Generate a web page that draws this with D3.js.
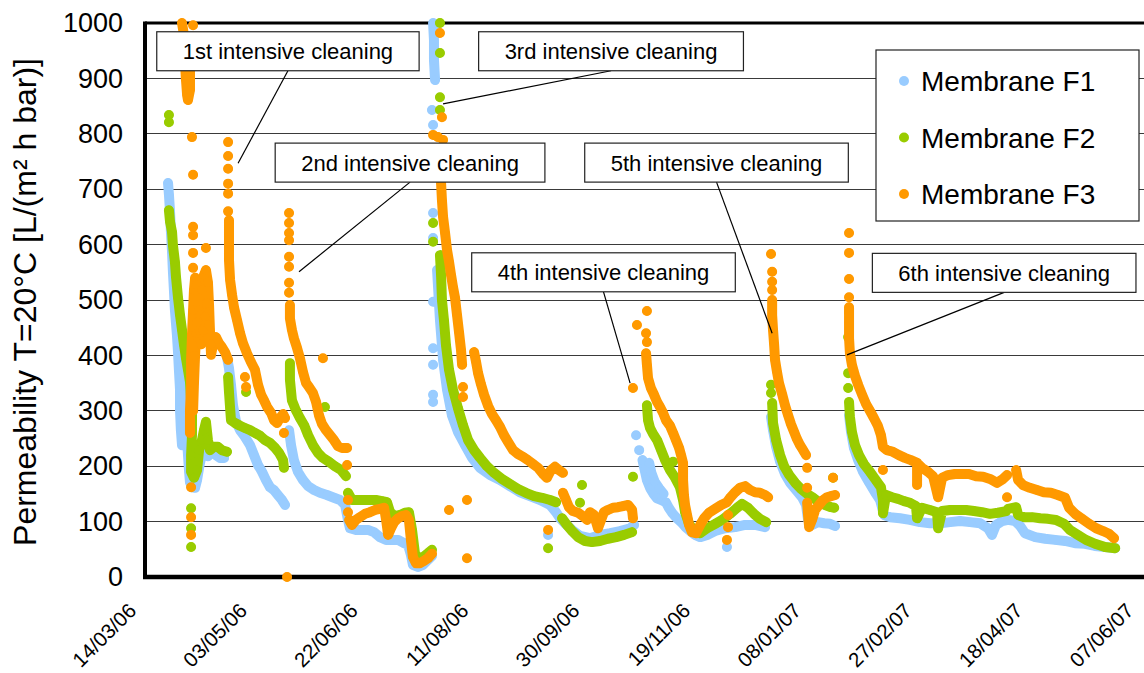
<!DOCTYPE html>
<html>
<head>
<meta charset="utf-8">
<script src="https://cdn.jsdelivr.net/npm/d3@7"></script>
<style>
body { margin: 0; background: #fff; }
text { font-family: "Liberation Sans", Arial, sans-serif; fill: #000; }
</style>
</head>
<body>
<svg id="chart" width="1144" height="673"></svg>
<script>
// day 0 = 14/03/06
var START = Date.UTC(2006, 2, 14);
var tickDays = [0, 50, 100, 150, 200, 250, 300, 350, 400, 450];
var yTicks = [0, 100, 200, 300, 400, 500, 600, 700, 800, 900, 1000];
var seriesNames = ["Membrane F1", "Membrane F2", "Membrane F3"];
var seriesColors = ["#99CCFF", "#99CC00", "#FF9900"];

// [day, permeability], null = break between runs
var f1 = [
  [10.4,711],[10.8,690],[11.3,659],[11.7,623],[12.2,587],[12.6,551],[13.1,514],[13.5,482],[14.4,437],[14.9,406],[15.3,374],[15.8,338],[15.8,301],[16.2,265],[16.7,238],[17.1,283],[18.1,329],[18.5,283],[19.0,247],[19.4,220],[19.9,190],[20.3,171],[21.2,162],[22.6,161],[23.5,175],[24.4,197],[25.3,215],[26.6,226],[28.4,218],[30.2,229],[32.0,220],[33.8,215],[35.7,215], null,
  [15.3,420],[16.0,380],[16.7,345],[17.4,310],[18.1,290],[18.8,270], null,
  [37.0,397],[37.9,377],[38.8,347],[39.7,310],[41.1,280],[42.9,265],[45.1,253],[47.4,238],[49.2,220],[51.0,202],[52.8,190],[54.6,175],[56.4,162],[58.2,157],[60.0,148],[61.8,139],[63.2,130], null,
  [65.0,265],[65.9,238],[67.2,211],[69.0,190],[71.3,175],[73.6,164],[76.3,157],[79.0,152],[82.1,148],[85.3,143],[88.0,139],[90.3,130],[91.6,103],[92.5,88],[95.2,85],[97.9,85],[100.6,85],[103.3,81],[106.0,72],[108.8,67],[111.5,67],[114.2,67],[116.9,61],[118.7,58],[120.0,40],[120.9,22],[123.2,18],[125.5,22],[127.7,31],[129.5,38], null,
  [130.0,1000],[130.4,969],[130.4,933],[130.9,897], null,
  [129.5,843], null, [130.0,816], null, [130.0,657], null, [130.0,612], null, [130.0,497], null, [130.0,413], null, [130.0,383], null, [130.0,329], null, [130.0,316], null,
  [131.8,554],[133.1,464],[134.5,392],[136.3,338],[138.5,292],[141.2,262],[144.4,238],[147.6,215],[151.2,197],[155.7,184],[160.2,175],[164.7,164],[169.2,153],[173.7,146],[178.3,139],[182.8,130],[185.5,117],[187.3,106],[189.5,97],[192.7,85],[196.3,74],[200.8,70],[205.3,76],[209.9,79],[214.4,83],[218.9,88],[220.7,94], null,
  [181.9,76], null,
  [221.6,256], null, [223.0,229], null,
  [224.5,211],[225.5,193],[226.5,175],[228.0,160],[229.5,150],[231.0,142],[233.0,139],[235.0,135],[236.5,124],[238.0,115],[240.0,106],[242.0,99],[244.0,90],[246.0,83],[248.2,76],[250.5,72],[253.7,76],[257.3,83],[261.8,88],[266.3,90],[270.8,94],[275.3,94],[279.8,90], null,
  [227.5,206],[228.5,188],[230.0,172],[232.0,160],[234.0,150], null,
  [262.6,54], null,
  [282.5,289],[283.4,265],[284.8,235],[286.6,208],[288.8,186],[291.1,170],[293.8,157],[296.5,144],[298.3,130],[299.2,103],[301.0,94],[303.7,99],[306.4,97],[309.1,96],[311.4,92], null,
  [317.7,292],[318.6,262],[319.9,233],[321.8,211],[324.0,190],[326.7,171],[329.4,153],[331.7,139],[333.5,112],[336.2,108],[340.7,106],[345.2,103],[349.7,99],[354.2,97],[358.8,97],[363.3,99],[367.8,101],[372.3,99],[376.8,97],[380.4,88],[382.2,76],[384.0,94],[386.8,101],[389.5,103],[392.6,101],[394.9,92],[397.1,79],[401.7,72],[406.2,69],[410.7,67],[415.2,65],[419.7,61],[424.2,60],[428.7,56],[433.2,54],[437.8,52]
];

var f2 = [
  [10.8,834], null, [10.8,821], null,
  [10.8,662],[11.3,641],[12.2,623],[12.6,599],[13.5,569],[14.0,541],[14.9,504],[15.8,473],[16.7,446],[17.6,419],[18.5,395],[19.4,374],[20.3,352],[20.8,319],[21.2,292],[21.2,256],[20.8,220],[20.8,190],[22.1,179],[23.5,193],[24.4,229],[25.7,247],[26.6,265],[27.5,280],[28.4,247],[29.3,229],[31.1,235],[32.9,235],[34.7,229],[37.0,226], null,
  [20.8,124], null, [20.8,88], null, [20.8,54], null,
  [37.5,361],[37.9,334],[38.4,305],[38.8,283],[40.6,278],[42.9,273],[45.1,269],[47.4,265],[49.6,260],[51.9,255],[54.2,247],[56.4,242],[58.7,233],[60.5,224],[62.3,211],[62.7,197], null,
  [45.6,334], null,
  [65.4,386],[65.4,356],[66.3,319],[68.1,301],[69.9,287],[71.8,274],[73.6,256],[75.8,238],[78.1,224],[80.3,215],[83.0,208],[85.7,200],[88.5,193],[90.7,182], null,
  [81.2,307], null,
  [91.6,152],[93.4,139],[96.1,139],[98.8,139],[101.5,139],[104.2,139],[107.0,137],[109.2,135],[110.6,117],[112.8,110],[115.1,112],[117.3,116],[119.1,117],[120.5,85],[121.8,43],[123.2,34],[125.5,36],[127.7,43],[129.5,49], null,
  [133.1,1000], null, [133.1,946], null, [133.1,866], null, [133.1,843], null, [130.0,639], null, [130.0,605], null,
  [133.1,581],[133.6,545],[134.0,500],[134.9,464],[135.8,419],[137.2,374],[139.0,338],[141.2,305],[143.5,274],[145.8,247],[148.5,229],[151.2,215],[154.3,200],[157.5,188],[161.1,177],[164.7,168],[168.3,159],[171.9,152],[175.6,146],[179.2,143],[182.8,139],[185.5,135], null,
  [181.9,52], null, [197.2,166], null, [196.3,134], null,
  [188.2,106],[190.4,94],[192.7,83],[195.4,72],[198.6,65],[201.7,63],[205.3,65],[208.9,69],[212.6,72],[216.2,76],[219.8,81], null,
  [220.2,181], null,
  [226.5,310],[227.0,283],[227.9,269],[229.3,258],[231.1,247],[232.9,229],[234.7,211],[236.9,193],[239.2,179],[241.4,162],[242.8,139],[243.7,117],[245.5,96],[247.7,83],[250.5,79],[253.7,88],[257.3,96],[260.4,103],[264.0,114],[267.2,125],[269.4,132],[272.1,125],[274.8,114],[277.5,105],[280.3,99], null,
  [238.3,208], null,
  [282.5,347], null, [282.5,332], null,
  [283.0,314],[283.4,278],[284.8,247],[286.6,220],[288.4,200],[290.7,184],[293.4,170],[296.0,159],[298.8,150],[301.5,143],[304.2,135],[306.9,130],[309.6,126],[311.0,125], null,
  [310.5,179], null,
  [317.7,478], null, [317.3,433], null, [317.3,368], null, [317.3,341], null,
  [317.7,316],[318.1,289],[319.0,262],[320.4,238],[322.2,220],[324.4,204],[327.1,190],[329.8,175],[332.1,162],[333.0,139],[333.0,115],[334.4,148],[337.1,144],[339.8,141],[342.5,137],[345.2,134],[347.9,128],[348.4,106],[350.6,125],[354.2,121],[357.4,117],[357.9,88],[359.7,119],[363.3,121],[366.9,121],[370.5,121],[374.1,119],[377.7,117],[381.3,114],[384.9,116],[388.6,119],[389.5,123],[393.1,126],[394.0,112],[396.7,108],[400.3,108],[403.9,106],[407.5,105],[411.1,103],[414.7,96],[417.4,85],[421.0,76],[424.6,67],[428.7,60],[433.2,54],[437.8,52]
];

var f3 = [
  [16.7,1000],[17.6,978],[17.1,951],[18.1,924],[18.5,897],[19.0,870],[19.4,861],[20.3,879],[20.3,915],[19.9,960], null,
  [21.7,996], null, [21.2,794], null, [21.7,726], null,
  [21.7,632], null, [21.7,617], null, [21.7,585], null, [21.7,558], null, [27.5,594], null,
  [20.3,260],[20.3,301],[20.8,347],[20.8,392],[21.2,437],[21.7,482],[22.1,518],[22.6,540],[23.5,527],[24.4,482],[24.8,428],[25.3,473],[25.7,518],[26.6,545],[27.5,554],[28.4,532],[28.9,491],[29.3,446],[29.8,401],[30.7,419],[32.0,433],[33.4,422],[34.7,415],[36.1,406],[37.5,392], null,
  [21.7,300],[22.1,350],[22.6,400],[23.1,440],[23.5,460],[24.4,445],[25.3,420],[26.2,445],[27.1,470],[28.0,495],[28.9,455],[29.8,420], null,
  [20.8,162], null, [20.8,108], null, [20.8,76], null,
  [37.5,785], null, [37.5,760], null, [37.5,737], null, [37.5,710], null, [37.5,692], null, [37.5,660], null,
  [37.9,644],[37.9,608],[37.9,572],[38.4,536],[39.3,509],[40.2,486],[41.5,464],[42.9,440],[44.2,422],[46.0,404],[47.8,388],[49.6,374],[51.0,347],[52.4,329],[53.7,319],[55.1,307],[56.9,296],[58.2,283],[59.6,278],[60.9,287],[62.3,294],[63.2,287], null,
  [45.1,361], null, [45.6,343], null, [62.7,260], null, [64.1,0], null,
  [65.0,657], null, [65.0,639], null, [65.0,621], null, [65.0,608], null, [65.0,578], null, [65.0,560], null, [65.0,531], null, [65.0,513], null,
  [65.4,491],[65.4,467],[66.3,446],[67.2,431],[68.5,415],[69.9,395],[71.3,370],[72.7,350],[74.0,343],[75.8,332],[77.2,316],[78.5,292],[79.9,276],[81.7,265],[83.5,256],[85.3,247],[87.1,236],[88.9,233],[91.2,233], null,
  [80.3,395], null, [91.2,202], null, [91.6,139], null, [91.6,117], null,
  [92.1,103],[93.4,94],[95.2,103],[97.0,108],[99.3,114],[101.5,117],[103.8,121],[106.0,123],[107.9,125],[108.8,103],[109.7,76],[111.0,88],[112.4,99],[114.2,106],[116.0,110],[117.8,112],[119.1,103],[120.0,67],[120.9,36],[122.3,25],[124.1,25],[125.9,29],[127.7,34],[129.5,42], null,
  [133.1,982], null, [134.0,830], null, [130.0,798], null, [132.2,794], null, [134.5,789], null,
  [133.6,711],[134.0,680],[134.5,650],[135.4,621],[136.3,590],[137.2,569],[138.1,545],[139.0,523],[139.9,504],[140.8,473],[141.7,442],[142.6,410],[143.1,383], null,
  [143.5,343], null, [143.5,325], null, [137.2,121], null, [145.3,139], null, [145.3,34], null,
  [148.5,406],[149.4,388],[150.3,368],[151.6,348],[153.0,329],[154.8,309],[156.6,294],[158.4,283],[160.2,271],[162.0,256],[163.8,244],[166.1,229],[168.3,222],[170.6,217],[172.8,211],[175.1,204],[177.4,197],[179.6,186],[181.4,179],[183.2,193],[185.0,199],[186.8,193],[188.6,188], null,
  [181.9,85], null,
  [188.6,152],[190.0,139],[191.3,126],[193.1,119],[195.4,116],[197.6,110],[199.5,103],[200.8,117],[202.6,112],[204.4,88],[205.8,103],[207.1,117],[208.9,121],[211.2,125],[213.4,126],[215.7,128],[218.0,130],[219.8,121],[220.2,106], null,
  [220.2,341], null,
  [222.0,455], null, [226.5,480], null, [226.1,440], null, [226.5,424], null,
  [226.1,404],[226.5,383],[227.0,359],[228.3,341],[229.7,329],[231.1,316],[232.4,307],[233.8,296],[235.1,283],[236.9,273],[238.3,260],[239.6,247],[241.0,233],[241.9,220],[242.8,206],[242.8,175],[243.2,148],[243.7,130],[244.6,112],[245.5,94],[246.8,81],[248.6,79],[250.5,94],[252.3,106],[254.5,116],[257.3,123],[260.0,130],[262.6,135],[264.0,143],[266.3,153],[268.5,161],[270.8,164],[273.0,157],[275.3,153],[277.5,152],[279.8,148],[281.2,144], null,
  [263.1,112], null, [263.1,90], null, [262.6,67], null,
  [282.5,583], null, [283.0,551], null, [283.0,533], null, [283.0,518], null,
  [283.0,500],[283.0,473],[283.4,446],[283.9,419],[284.3,392],[285.2,370],[286.1,350],[287.5,330],[288.8,310],[290.2,292],[291.5,276],[292.9,262],[294.2,249],[295.6,238],[297.0,229],[298.3,220], null,
  [298.8,197], null, [298.8,161], null,
  [298.8,134],[299.2,112],[299.7,90],[301.0,103],[302.4,121],[304.2,130],[306.0,139],[307.8,144],[309.6,146],[311.4,148], null,
  [310.5,179], null,
  [317.7,621], null, [317.7,585], null, [317.7,538], null, [317.7,505], null,
  [317.7,487],[317.7,460],[317.7,431],[318.1,404],[319.0,383],[320.4,363],[321.8,347],[323.6,329],[325.4,312],[327.1,300],[328.9,287],[330.7,273],[332.1,256],[333.0,235],[334.8,229],[337.5,226],[340.2,220],[342.9,215],[345.6,211],[348.4,206],[348.4,166],[348.4,206],[350.6,197],[353.3,190],[355.6,182],[357.9,144],[359.7,179],[362.4,184],[365.5,186],[368.7,186],[371.8,186],[375.0,182],[378.2,181],[381.3,177],[384.5,170],[387.2,177],[389.0,184], null,
  [389.0,144], null, [333.0,193], null,
  [393.1,193],[394.0,175],[396.2,166],[399.3,161],[402.5,157],[405.6,153],[408.8,152],[411.9,148],[415.2,143],[417.0,125],[419.7,114],[422.9,105],[426.0,96],[429.2,88],[432.3,83],[435.0,78],[437.3,70]
];

// callouts: label centre and the point the leader line reaches, in data units
var notes = [
  {text: "1st intensive cleaning", day: 64.5, value: 949, tipDay: 42.0, tipValue: 747},
  {text: "2nd intensive cleaning", day: 119.6, value: 748, tipDay: 69.5, tipValue: 551},
  {text: "3rd intensive cleaning", day: 210.3, value: 949, tipDay: 134.5, tipValue: 854},
  {text: "4th intensive cleaning", day: 206.9, value: 550, tipDay: 218.9, tipValue: 350},
  {text: "5th intensive cleaning", day: 257.9, value: 748, tipDay: 283.0, tipValue: 440},
  {text: "6th intensive cleaning", day: 387.7, value: 549, tipDay: 316.8, tipValue: 401}
];

var svg = d3.select("#chart");
var plot = {left: 145, top: 23, right: 1144, bottom: 577};
var DOT_R = 4.5;

var x = d3.scaleLinear().domain([0, 450.8]).range([plot.left, plot.right]);
var y = d3.scaleLinear().domain([0, 1000]).range([plot.bottom, plot.top]);
var fmt = d3.utcFormat("%d/%m/%y");

// gridlines
svg.append("g").selectAll("line")
    .data(yTicks.filter(function(v){ return v > 0 && v < 1000; }))
    .enter().append("line")
    .attr("x1", plot.left).attr("x2", plot.right)
    .attr("y1", function(v){ return y(v); }).attr("y2", function(v){ return y(v); })
    .style("stroke", "#3a3a3a").style("stroke-width", 1)
    .style("shape-rendering", "crispEdges");

// plot frame (top, left, bottom)
svg.append("line").attr("x1", plot.left).attr("x2", plot.right)
    .attr("y1", y(1000)).attr("y2", y(1000))
    .style("stroke", "#000").style("stroke-width", 3);
svg.append("line").attr("x1", plot.left).attr("x2", plot.left)
    .attr("y1", y(1000) - 1.5).attr("y2", plot.bottom + 2)
    .style("stroke", "#000").style("stroke-width", 4);
svg.append("line").attr("x1", plot.left - 2).attr("x2", plot.right)
    .attr("y1", plot.bottom).attr("y2", plot.bottom)
    .style("stroke", "#000").style("stroke-width", 4.5);

// y axis labels
var yAxis = svg.append("g")
    .attr("transform", "translate(" + plot.left + ",0)")
    .call(d3.axisLeft(y).tickValues(yTicks).tickSize(0).tickPadding(22)
        .tickFormat(d3.format("d")));
yAxis.select(".domain").remove();
yAxis.selectAll("text").style("font-size", "27px");

// x axis labels, rotated
var xAxis = svg.append("g")
    .attr("transform", "translate(0," + plot.bottom + ")")
    .call(d3.axisBottom(x).tickValues(tickDays).tickSize(0)
        .tickFormat(function(d){ return fmt(new Date(START + d * 864e5)); }));
xAxis.select(".domain").remove();
xAxis.selectAll("text")
    .attr("y", 0).attr("dy", 0)
    .attr("text-anchor", "end")
    .attr("transform", "translate(-8,35) rotate(-45)")
    .style("font-size", "20.5px");

// y axis title
svg.append("text")
    .attr("transform", "translate(36," + ((plot.top + plot.bottom) / 2 + 2) + ") rotate(-90)")
    .attr("text-anchor", "middle")
    .style("font-size", "32px")
    .text("Permeability T=20°C [L/(m² h bar)]");

// series: dense runs as a thick path, every reading as a dot
var line = d3.line()
    .defined(function(d){ return d !== null; })
    .x(function(d){ return x(d[0]); })
    .y(function(d){ return y(d[1]); });

[f1, f2, f3].forEach(function(series, i){
    var g = svg.append("g").attr("class", "series s" + (i + 1));
    g.append("path")
        .attr("d", line(series))
        .style("fill", "none")
        .style("stroke", seriesColors[i])
        .style("stroke-width", 10)
        .style("stroke-linecap", "round")
        .style("stroke-linejoin", "round");
    g.selectAll("circle")
        .data(series.filter(function(d){ return d !== null; }))
        .enter().append("circle")
        .attr("cx", function(d){ return x(d[0]); })
        .attr("cy", function(d){ return y(d[1]); })
        .attr("r", DOT_R)
        .style("fill", seriesColors[i]);
});

// callouts
var noteG = svg.append("g").attr("class", "notes");
notes.forEach(function(n){
    var cx = x(n.day), cy = y(n.value);
    var g = noteG.append("g");
    g.append("line")
        .attr("x1", cx).attr("y1", cy + 19.5)
        .attr("x2", x(n.tipDay)).attr("y2", y(n.tipValue))
        .style("stroke", "#000").style("stroke-width", 1.2);
    var box = g.append("rect");
    var t = g.append("text")
        .attr("x", cx).attr("y", cy + 8)
        .attr("text-anchor", "middle")
        .style("font-size", "22px")
        .text(n.text);
    var w = t.node().getComputedTextLength() + 52;
    box.attr("x", cx - w / 2).attr("y", cy - 19.5)
        .attr("width", w).attr("height", 39)
        .style("fill", "#fff").style("stroke", "#222").style("stroke-width", 1.2);
});

// legend
var legend = svg.append("g").attr("transform", "translate(876,50)");
legend.append("rect")
    .attr("width", 263).attr("height", 171)
    .style("fill", "#fff").style("stroke", "#222").style("stroke-width", 1.2);
seriesNames.forEach(function(name, i){
    var ly = 31 + i * 56.5;
    legend.append("circle").attr("cx", 28).attr("cy", ly).attr("r", 5)
        .style("fill", seriesColors[i]);
    legend.append("text").attr("x", 45).attr("y", ly + 10)
        .style("font-size", "28px").text(name);
});
</script>
</body>
</html>
